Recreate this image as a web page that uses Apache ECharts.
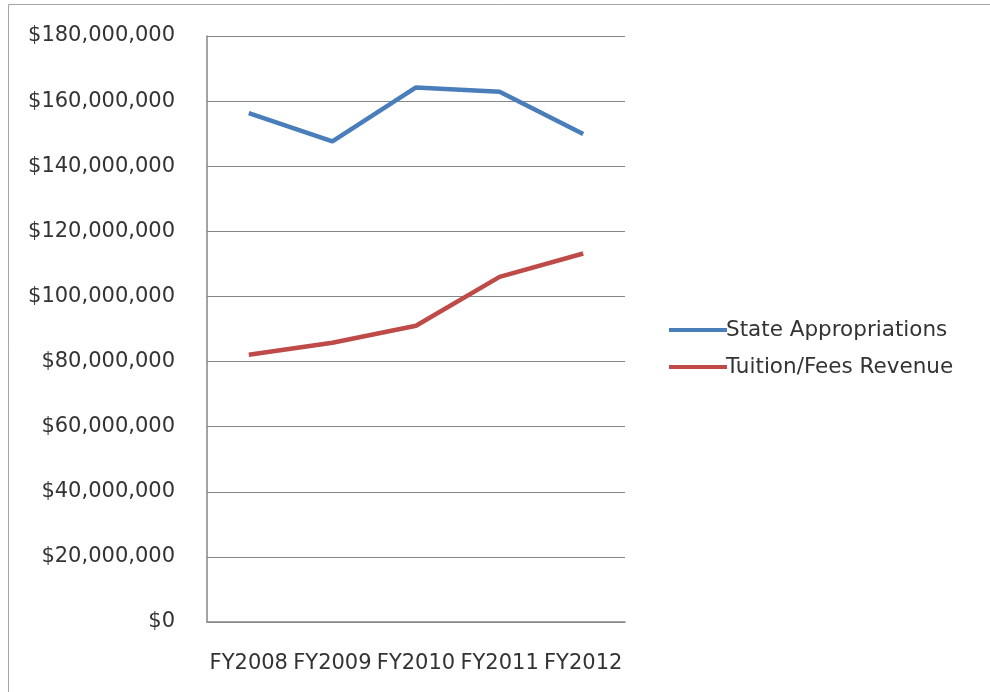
<!DOCTYPE html>
<html><head><meta charset="utf-8">
<script src="https://cdn.jsdelivr.net/npm/echarts@6/dist/echarts.min.js"></script>
<style>html,body{margin:0;padding:0;background:#fff}#c{width:990px;height:692px}</style>
</head><body><div id="c"></div>
<script>
var categories = ['FY2008','FY2009','FY2010','FY2011','FY2012'];
var stateApprop = [156300000, 147600000, 164200000, 162900000, 149900000];
var tuitionFees = [82100000, 85800000, 91000000, 106000000, 113200000];
var seriesNames = ['State Appropriations', 'Tuition/Fees Revenue'];

var FONT = 'DejaVu Sans, sans-serif';
var chart = echarts.init(document.getElementById('c'));
function fmt(v){ return '$' + String(v).replace(/\B(?=(\d{3})+(?!\d))/g, ','); }
chart.setOption({
  animation: false,
  backgroundColor: '#fff',
  textStyle: {fontFamily: FONT},
  graphic: [{type:'rect', shape:{x:8.5,y:4.5,width:990,height:700}, style:{fill:'none', stroke:'#a6a6a6', lineWidth:1}, silent:true}],
  grid: {left: 207, right: 365, top: 36, bottom: 70, containLabel: false},
  legend: {
    orient: 'vertical', left: 664, top: 314, itemWidth: 58, itemHeight: 4, itemGap: 15,
    icon: 'rect',
    data: seriesNames,
    textStyle: {fontSize: 21.5, color: '#333', padding: [0,0,0,-6], fontFamily: FONT}
  },
  xAxis: {
    type: 'category', data: categories, boundaryGap: true,
    axisLine: {lineStyle: {color: '#868686', width: 1.5}},
    axisTick: {show: false},
    axisLabel: {color: '#333', fontSize: 21, margin: 31, interval: 0, fontFamily: FONT},
    splitLine: {show: false}
  },
  yAxis: {
    type: 'value', min: 0, max: 180000000, interval: 20000000,
    axisLine: {show: true, lineStyle: {color: '#868686', width: 1.5}},
    axisTick: {show: false},
    axisLabel: {color: '#333', fontSize: 21, margin: 32, formatter: fmt, fontFamily: FONT},
    splitLine: {lineStyle: {color: '#868686', width: 1.2}}
  },
  series: [
    {name: seriesNames[0], type: 'line', data: stateApprop, symbol: 'none', lineStyle: {color: '#4A7EBB', width: 4.5}, itemStyle: {color: '#4A7EBB'}},
    {name: seriesNames[1], type: 'line', data: tuitionFees, symbol: 'none', lineStyle: {color: '#BE4B48', width: 4.5}, itemStyle: {color: '#BE4B48'}}
  ]
});
</script></body></html>
